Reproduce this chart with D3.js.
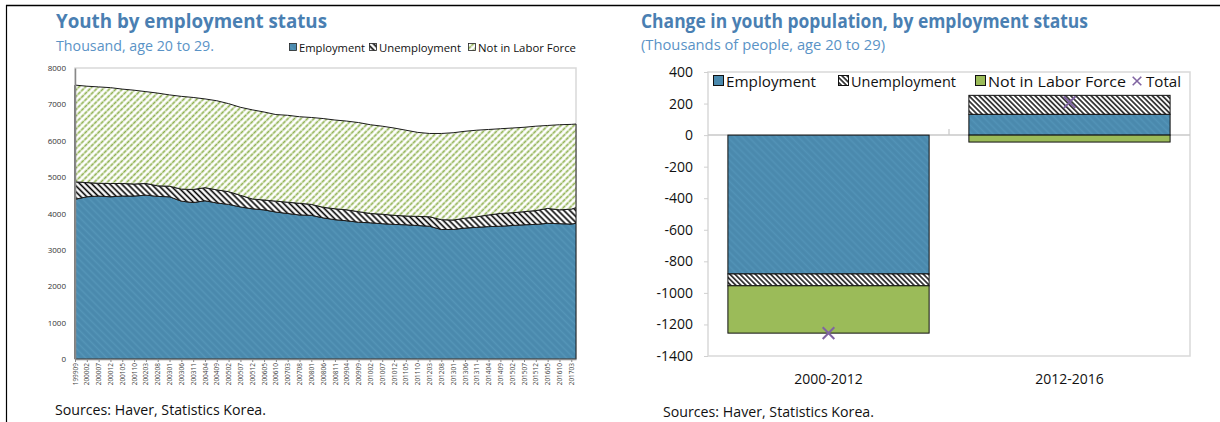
<!DOCTYPE html>
<html><head><meta charset="utf-8">
<script src="https://cdn.jsdelivr.net/npm/d3@7/dist/d3.min.js"></script>
<style>
body{margin:0;background:#fff}
svg{display:block}
text{font-family:"Open Sans","Noto Sans",sans-serif}
</style>
</head><body>
<svg id="c" width="1220" height="422"></svg>
<script>
// ---------- Left chart data (thousands, age 20-29), sampled every 5 months ----------
const dates = ["199909","200002","200007","200012","200105","200110","200203","200208","200301","200306","200311",
  "200404","200409","200502","200507","200512","200605","200610","200703","200708","200801","200806","200811",
  "200904","200909","201002","201007","201012","201105","201110","201203","201208","201301","201306","201311",
  "201404","201409","201502","201507","201512","201605","201610","201703","201705"];
const tickLabels = dates.slice(0, 43);
const employment = [4390,4460,4480,4460,4480,4480,4505,4470,4460,4340,4300,4350,4290,4250,4180,4130,4100,4040,4000,3960,
  3950,3880,3830,3800,3760,3745,3720,3700,3690,3670,3650,3560,3560,3600,3620,3640,3650,3670,3690,3700,3730,3720,3710,3730];
const unemployment = [480,390,350,365,345,330,320,290,290,330,360,360,360,350,320,270,270,300,310,320,
  300,290,300,300,290,255,260,250,240,250,260,270,260,270,290,320,350,350,360,380,410,380,410,430];
const notInLaborForce = [2660,2650,2650,2635,2595,2580,2525,2550,2510,2550,2530,2440,2450,2420,2420,2450,2420,2380,2390,2380,
  2390,2440,2440,2440,2450,2440,2420,2400,2360,2310,2290,2370,2400,2390,2380,2350,2330,2330,2320,2320,2280,2340,2330,2300];
const leftYTicks = [0,1000,2000,3000,4000,5000,6000,7000,8000];
const leftSeries = ["Employment","Unemployment","Not in Labor Force"];

// ---------- Right chart data (change, thousands) ----------
const periods = ["2000-2012","2012-2016"];
const chgEmployment = [-880, 132];
const chgUnemployment = [-75, 120];
const chgNotInLF = [-300, -44];
const chgTotal = [-1255, 208];
const rightYTicks = [400,200,0,-200,-400,-600,-800,-1000,-1200,-1400];

const svg = d3.select("#c");
const defs = svg.append("defs");
const BLUE = "#4a89ad", GREEN = "#9bbb59", PURPLE = "#8064a2";
const TITLE = "#4a7fb2", SUB = "#5a93c6";

function stripes(id, bg, color, size, width, angle, dash) {
  const p = defs.append("pattern").attr("id", id).attr("patternUnits", "userSpaceOnUse")
    .attr("width", size).attr("height", size).attr("patternTransform", `rotate(${angle})`);
  p.append("rect").attr("width", size).attr("height", size).attr("fill", bg);
  const l = p.append("line").attr("x1", size/2).attr("x2", size/2).attr("y1", 0).attr("y2", size)
    .attr("stroke", color).attr("stroke-width", width);
  if (dash) l.attr("stroke-dasharray", dash);
}
stripes("empPat", BLUE, "#5595b8", 5, 1.6, -45);
stripes("empPatR", BLUE, "#5293b7", 5, 1.6, -45);
stripes("unPat", "#fff", "#000", 4.2, 1.6, -45);
stripes("unPatR", "#fff", "#000", 3.6, 1.4, -45);
stripes("nilfPat", "#fff", "#8fb150", 4.6, 1.7, 45, "2.6 0.6");

// Page frame
svg.append("line").attr("x1", 6).attr("x2", 1220).attr("y1", 5.5).attr("y2", 5.5).attr("stroke", "#000").attr("stroke-width", 1.5);
svg.append("line").attr("x1", 6.5).attr("x2", 6.5).attr("y1", 5).attr("y2", 422).attr("stroke", "#000").attr("stroke-width", 1.2);

function txt(x, y, s, size, color, weight, len, anchor) {
  const t = svg.append("text").attr("x", x).attr("y", y).text(s).attr("font-size", size)
    .attr("fill", color).attr("font-weight", weight || 400);
  if (len) t.attr("textLength", len).attr("lengthAdjust", "spacingAndGlyphs");
  if (anchor) t.attr("text-anchor", anchor);
  return t;
}

// ================= LEFT CHART =================
txt(56, 28, "Youth by employment status", 20, TITLE, 700, 271);
txt(56, 51, "Thousand, age 20 to 29.", 15, SUB, 400, 158);
txt(55, 415, "Sources: Haver, Statistics Korea.", 14, "#111", 400, 211);

const L = {x0: 75, x1: 576, y0: 68, y1: 359};
const mIdx = s => (+s.slice(0,4) - 1999) * 12 + (+s.slice(4) - 9);
const xL = d3.scaleLinear().domain([mIdx(dates[0]), mIdx(dates[dates.length-1])]).range([L.x0, L.x1]);
const yL = d3.scaleLinear().domain([0, 8000]).range([L.y1, L.y0]);

const rows = dates.map((d, i) => ({m: mIdx(d), "Employment": employment[i], "Unemployment": unemployment[i], "Not in Labor Force": notInLaborForce[i]}));
const stackL = d3.stack().keys(leftSeries)(rows);
const fillsL = ["url(#empPat)", "url(#unPat)", "url(#nilfPat)"];

svg.append("rect").attr("x", L.x0).attr("y", L.y0).attr("width", L.x1 - L.x0).attr("height", L.y1 - L.y0)
  .attr("fill", "none").attr("stroke", "#d9d9d9").attr("stroke-width", 1.5);

const area = d3.area().x(d => xL(d.data.m)).y0(d => yL(d[0])).y1(d => yL(d[1]));
svg.append("g").selectAll("path").data(stackL).join("path")
  .attr("d", area).attr("fill", (d, i) => fillsL[i])
  .attr("stroke", "#1a1a1a").attr("stroke-width", 1).attr("stroke-linejoin", "round");

const gyL = svg.append("g").attr("transform", `translate(${L.x0},0)`)
  .call(d3.axisLeft(yL).tickValues(leftYTicks).tickSize(0).tickPadding(9).tickFormat(d => String(d)));
gyL.select(".domain").attr("stroke", "#888").attr("stroke-width", 1.5);
gyL.selectAll("text").attr("font-size", 8).attr("fill", "#333").attr("font-family", "Open Sans, sans-serif");

const gxL = svg.append("g").attr("transform", `translate(0,${L.y1})`)
  .call(d3.axisBottom(xL).tickValues(tickLabels.map(mIdx)).tickSize(3).tickSizeOuter(0)
    .tickFormat((d, i) => tickLabels[i]));
gxL.select(".domain").attr("stroke", "#888").attr("stroke-width", 1.5);
gxL.selectAll(".tick line").attr("stroke", "#888");
gxL.selectAll("text").attr("font-size", 6.5).attr("fill", "#444")
  .attr("transform", "rotate(-90)").attr("text-anchor", "end").attr("x", -4).attr("y", 0).attr("dy", "0.32em")
  .attr("font-family", "Open Sans, sans-serif");

// left legend
const legL = [{k: "Employment", x: 289, w: 66}, {k: "Unemployment", x: 369, w: 82}, {k: "Not in Labor Force", x: 468, w: 98}];
legL.forEach((d, i) => {
  svg.append("rect").attr("x", d.x + 0.5).attr("y", 43.5).attr("width", 7).attr("height", 7)
    .attr("fill", fillsL[i]).attr("stroke", "#222").attr("stroke-width", 0.8);
  txt(d.x + 10, 51.5, d.k, 11, "#111", 400, d.w);
});

// ================= RIGHT CHART =================
txt(641, 28, "Change in youth population, by employment status", 19, TITLE, 700, 447);
txt(641, 50, "(Thousands of people, age 20 to 29)", 15, SUB, 400, 244);
txt(663, 417, "Sources: Haver, Statistics Korea.", 14, "#111", 400, 211);

const R = {x0: 708, x1: 1190, y0: 72, y1: 356};
const xR = d3.scaleBand().domain(periods).range([R.x0, R.x1]).paddingInner(0.165).paddingOuter(0.0826);
const yR = d3.scaleLinear().domain([-1400, 400]).range([R.y1, R.y0]);

svg.append("rect").attr("x", R.x0).attr("y", R.y0).attr("width", R.x1 - R.x0).attr("height", R.y1 - R.y0)
  .attr("fill", "none").attr("stroke", "#d9d9d9").attr("stroke-width", 1.5);

// zero line + category boundary tick
svg.append("line").attr("x1", R.x0).attr("x2", R.x1).attr("y1", yR(0)).attr("y2", yR(0)).attr("stroke", "#c8c8c8").attr("stroke-width", 1.5);
periods.slice(1).forEach(p => {
  const bx = xR(p) - xR.step() * xR.paddingInner() / 2;
  svg.append("line").attr("x1", bx).attr("x2", bx).attr("y1", yR(0)).attr("y2", yR(0) - 6).attr("stroke", "#c8c8c8").attr("stroke-width", 1.2);
});

const rowsR = periods.map((p, i) => ({p, e: chgEmployment[i], u: chgUnemployment[i], n: chgNotInLF[i]}));
const stackR = d3.stack().keys(["e", "u", "n"]).offset(d3.stackOffsetDiverging)(rowsR);
const fillsR = ["url(#empPatR)", "url(#unPatR)", GREEN];
stackR.forEach((s, si) => {
  svg.append("g").selectAll("rect").data(s).join("rect")
    .attr("x", d => xR(d.data.p)).attr("width", xR.bandwidth())
    .attr("y", d => yR(Math.max(d[0], d[1]))).attr("height", d => Math.abs(yR(d[0]) - yR(d[1])))
    .attr("fill", fillsR[si]).attr("stroke", "#111").attr("stroke-width", 1);
});

// totals markers
const xSym = d3.symbol().type(d3.symbolX).size(90);
svg.append("g").selectAll("path").data(periods).join("path")
  .attr("transform", (p, i) => `translate(${xR(p) + xR.bandwidth()/2},${yR(chgTotal[i])})`)
  .attr("d", xSym).attr("fill", "none").attr("stroke", PURPLE).attr("stroke-width", 2);

const gyR = svg.append("g").attr("transform", `translate(${R.x0},0)`)
  .call(d3.axisLeft(yR).tickValues(rightYTicks).tickSize(4).tickSizeOuter(0).tickPadding(11).tickFormat(d => String(d)));
gyR.select(".domain").remove();
gyR.selectAll(".tick line").attr("stroke", "#d0d0d0");
gyR.selectAll("text").attr("font-size", 14).attr("fill", "#111").attr("font-family", "Open Sans, sans-serif");

const gxR = svg.append("g").attr("transform", `translate(0,${R.y1})`)
  .call(d3.axisBottom(xR).tickSize(0).tickPadding(18));
gxR.select(".domain").remove();
gxR.selectAll("text").attr("font-size", 14).attr("fill", "#111").attr("font-family", "Open Sans, sans-serif");

// right legend
const legR = [{k: "Employment", x: 713, w: 90, f: BLUE}, {k: "Unemployment", x: 838, w: 105, f: "url(#unPatR)"},
  {k: "Not in Labor Force", x: 975, w: 138, f: GREEN}];
legR.forEach(d => {
  svg.append("rect").attr("x", d.x + 0.5).attr("y", 75.5).attr("width", 10).attr("height", 10)
    .attr("fill", d.f).attr("stroke", "#111").attr("stroke-width", 1);
  txt(d.x + 13, 86.5, d.k, 14, "#111", 400, d.w);
});
svg.append("path").attr("transform", "translate(1137,81)").attr("d", d3.symbol().type(d3.symbolX).size(50))
  .attr("fill", "none").attr("stroke", PURPLE).attr("stroke-width", 1.6);
txt(1146, 86.5, "Total", 14, "#111", 400, 35);
</script>
</body></html>
